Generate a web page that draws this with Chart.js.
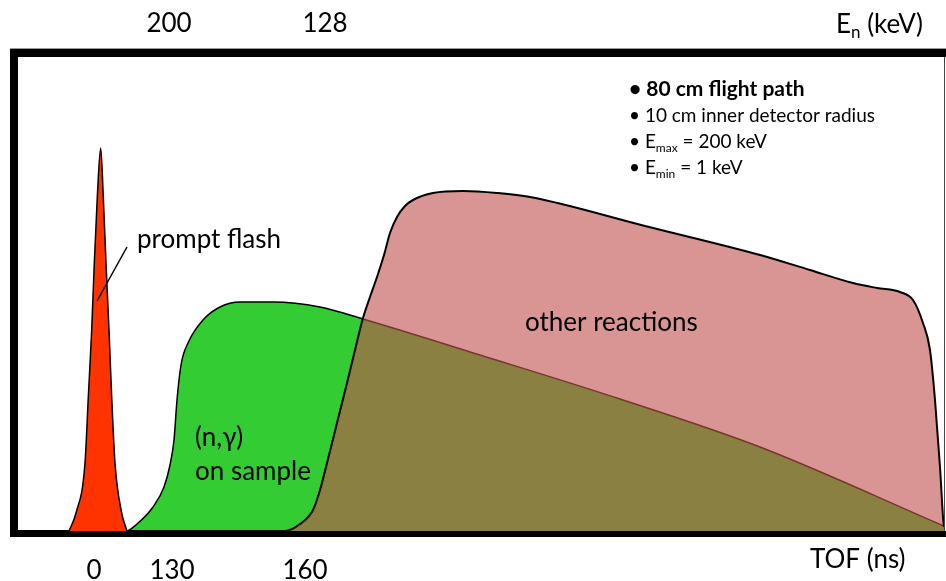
<!DOCTYPE html>
<html>
<head>
<meta charset="utf-8">
<script src="https://cdn.jsdelivr.net/npm/chart.js@4.4.1/dist/chart.umd.min.js"></script>
<style>
  html, body { margin: 0; padding: 0; background: #fff; }
</style>
</head>
<body>
<canvas id="tofChart" width="946" height="581"></canvas>
<script>
// Схематичный TOF-спектр (произвольные единицы: канал / отсчёты)
const flashX = [51, 58, 67, 70.3, 73.7, 76.3, 79.3, 82.7, 85.3, 88, 91, 93.7, 97, 103.7, 109];
const flashY = [0, 18, 68, 134, 201, 268, 334, 383, 334, 268, 201, 134, 68, 18, 0];

const captureX = [0, 108, 119, 135, 146, 152, 156, 159, 163, 170, 185, 202, 222, 255, 302, 345, 462, 602, 742, 926];
const captureY = [0, 0, 7, 24, 44, 66, 91, 131, 166, 188, 211, 224, 229, 229, 224, 212, 176, 132, 84, 5];

const otherX = [0, 267, 282, 295, 302, 309, 319, 329, 337, 345, 352, 359, 366, 372, 379, 387, 395, 415, 445, 479, 512, 627, 742, 792, 835, 859, 882, 895, 905, 912, 917, 922, 925, 926];
const otherY = [0, 0, 7, 21, 41, 68, 108, 148, 181, 213, 234, 254, 276, 298, 314, 325, 331, 338, 340, 338, 334, 305, 276, 261, 248, 243, 239, 231, 208, 181, 131, 64, 14, 4];

// подписи осей
const tofLabels = ['0', '130', '160'];
const tofChannels = [76, 154, 287];
const energyLabels = ['200', '128'];
const energyChannels = [151, 307];

const pts = (xs, ys) => xs.map((x, i) => ({ x: x, y: ys[i] }));

function otherAt(x) {
	for (let i = 1; i < otherX.length; i++) {
		if (x <= otherX[i]) {
			const t = (x - otherX[i - 1]) / (otherX[i] - otherX[i - 1]);
			return otherY[i - 1] + t * (otherY[i] - otherY[i - 1]);
		}
	}
	return 0;
}

const FONT = 'Lato, "Open Sans", sans-serif';

const framePlugin = {
	id: 'frame',
	afterDatasetsDraw(chart) {
		const ctx = chart.ctx;
		const a = chart.chartArea;
		ctx.save();
		ctx.fillStyle = '#999';
		ctx.fillRect(a.left - 8, a.top - 9, 946, 1);
		ctx.fillStyle = '#000';
		ctx.fillRect(a.left - 8, a.top - 8, 946, 8);
		ctx.fillRect(a.left - 8, a.top - 8, 8, a.bottom - a.top + 14);
		ctx.fillRect(a.left - 8, a.bottom, 946, 6);
		ctx.fillStyle = '#444';
		ctx.fillRect(a.right, a.top, 1, a.bottom - a.top);
		ctx.restore();
	},
	afterDraw(chart) {
		const ctx = chart.ctx;
		ctx.save();
		ctx.fillStyle = '#000';
		ctx.textBaseline = 'middle';
		ctx.textAlign = 'left';

		// подписи на графике
		ctx.font = '26px ' + FONT;
		ctx.fillText('prompt flash', 137, 240);
		ctx.fillText('other reactions', 525, 323);
		ctx.fillText('(n,γ)', 195, 438);
		ctx.fillText('on sample', 195, 472);

		ctx.strokeStyle = '#000';
		ctx.lineWidth = 1.5;
		ctx.beginPath();
		ctx.moveTo(127, 247);
		ctx.lineTo(97, 301);
		ctx.stroke();

		// заголовки осей
		let x = 836;
		ctx.fillText('E', x, 25);
		x += ctx.measureText('E').width;
		ctx.font = '17px ' + FONT;
		ctx.fillText('n', x, 33);
		x += ctx.measureText('n').width;
		ctx.font = '26px ' + FONT;
		ctx.fillText(' (keV)', x, 25);
		ctx.fillText('TOF (ns)', 810, 560);

		// условия измерения
		ctx.font = 'bold 21px ' + FONT;
		ctx.fillText('• 80 cm flight path', 629, 89);
		ctx.font = '19px ' + FONT;
		ctx.fillText('• 10 cm inner detector radius', 629, 116);
		const sub = (y, s, rest) => {
			let xx = 629;
			ctx.font = '19px ' + FONT;
			ctx.fillText('• E', xx, y);
			xx += ctx.measureText('• E').width;
			ctx.font = '12px ' + FONT;
			ctx.fillText(s, xx, y + 6);
			xx += ctx.measureText(s).width;
			ctx.font = '19px ' + FONT;
			ctx.fillText(rest, xx, y);
		};
		sub(142, 'max', ' = 200 keV');
		sub(168, 'min', ' = 1 keV');
		ctx.restore();
	}
};

const ctx = document.getElementById('tofChart').getContext('2d');
const chart = new Chart(ctx, {
	type: 'line',
	data: {
		datasets: [
			{
				label: 'prompt flash',
				data: pts(flashX, flashY),
				borderColor: '#000',
				borderWidth: 1.5,
				backgroundColor: '#ff3300',
				fill: 'origin',
				order: 1
			},
			{
				label: 'other reactions (outline)',
				data: pts(otherX, otherY),
				borderColor: '#000',
				borderWidth: 2,
				fill: false,
				order: 2
			},
			{
				label: '(n,γ) on sample',
				data: pts(captureX, captureY),
				borderWidth: 1.5,
				segment: {
					borderColor: c => c.p0.parsed.y < otherAt(c.p0.parsed.x) ? '#7a3434' : '#000'
				},
				fill: { target: 4, above: '#33cc33', below: 'rgba(0,0,0,0)' },
				order: 3
			},
			{
				label: 'overlap',
				data: pts(captureX, captureY),
				borderWidth: 0,
				backgroundColor: '#898041',
				fill: 'origin',
				order: 4
			},
			{
				label: 'other reactions',
				data: pts(otherX, otherY),
				borderWidth: 0,
				backgroundColor: '#d99594',
				fill: 'origin',
				order: 5
			}
		]
	},
	options: {
		responsive: false,
		animation: false,
		layout: { padding: { left: 18, right: 2, top: 0, bottom: 0 } },
		elements: {
			point: { radius: 0 },
			line: { cubicInterpolationMode: 'monotone' }
		},
		plugins: {
			legend: { display: false },
			tooltip: { enabled: false }
		},
		scales: {
			x: {
				type: 'linear',
				position: 'bottom',
				min: 0,
				max: 926,
				grid: { display: false, drawTicks: false },
				border: { display: false },
				afterBuildTicks: s => { s.ticks = tofChannels.map(v => ({ value: v })); },
				afterFit: s => { s.height = 50; },
				ticks: {
					autoSkip: false,
					maxRotation: 0,
					padding: 24,
					color: '#000',
					font: { family: FONT, size: 26 },
					callback: v => tofLabels[tofChannels.indexOf(v)]
				}
			},
			x2: {
				type: 'linear',
				position: 'top',
				min: 0,
				max: 926,
				grid: { display: false, drawTicks: false },
				border: { display: false },
				afterBuildTicks: s => { s.ticks = energyChannels.map(v => ({ value: v })); },
				afterFit: s => { s.height = 57; },
				ticks: {
					autoSkip: false,
					maxRotation: 0,
					padding: 18,
					color: '#000',
					font: { family: FONT, size: 26 },
					callback: v => energyLabels[energyChannels.indexOf(v)]
				}
			},
			y: {
				display: false,
				min: 0,
				max: 474
			}
		}
	},
	plugins: [framePlugin]
});
</script>
</body>
</html>
